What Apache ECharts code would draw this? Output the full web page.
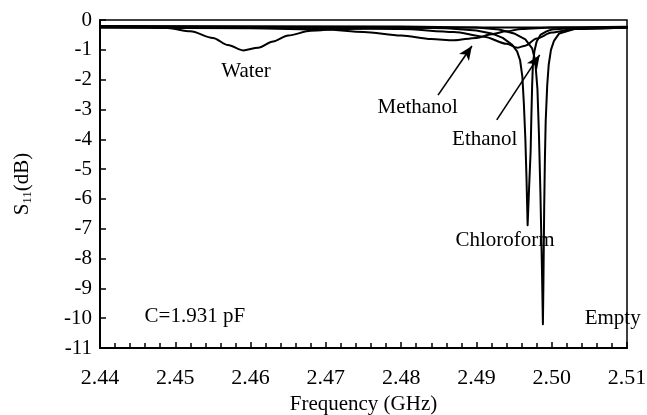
<!DOCTYPE html>
<html><head><meta charset="utf-8">
<script src="https://cdn.jsdelivr.net/npm/echarts@6/dist/echarts.min.js"></script>
<style>html,body{margin:0;padding:0;background:#fff}#c{width:647px;height:415px}</style>
</head><body><div id="c"></div>
<script>
// Tick labels
const xTicks = [2.44, 2.45, 2.46, 2.47, 2.48, 2.49, 2.50, 2.51];
const yTicks = [0, -1, -2, -3, -4, -5, -6, -7, -8, -9, -10, -11];

// Curves [frequency GHz, S11 dB]
const water = [[2.44,-0.2],[2.445,-0.22],[2.449,-0.27],[2.452,-0.38],[2.455,-0.6],[2.457,-0.84],[2.459,-1.02],[2.461,-0.93],[2.463,-0.72],[2.465,-0.52],[2.468,-0.36],[2.472,-0.3],[2.48,-0.27],[2.49,-0.25],[2.51,-0.25]];
const methanol = [[2.44,-0.25],[2.46,-0.28],[2.47,-0.32],[2.475,-0.4],[2.48,-0.52],[2.484,-0.64],[2.487,-0.68],[2.49,-0.6],[2.492,-0.48],[2.494,-0.38],[2.496,-0.3],[2.5,-0.25],[2.51,-0.23]];
const ethanol = [[2.44,-0.25],[2.47,-0.27],[2.48,-0.3],[2.487,-0.4],[2.491,-0.56],[2.494,-0.8],[2.4955,-0.93],[2.4965,-0.86],[2.498,-0.62],[2.5,-0.42],[2.503,-0.3],[2.51,-0.25]];
const chloroform = [[2.44,-0.22],[2.48,-0.25],[2.486,-0.28],[2.49,-0.35],[2.492,-0.45],[2.4935,-0.6],[2.4947,-0.82],[2.4954,-1.05],[2.4958,-1.35],[2.4961,-1.9],[2.4963,-2.8],[2.4965,-4.0],[2.49665,-5.3],[2.4968,-6.88],[2.4970,-5.6],[2.4972,-4.4],[2.4973,-3.2],[2.4974,-2.2],[2.4975,-1.5],[2.4977,-1.05],[2.498,-0.72],[2.4985,-0.5],[2.4993,-0.38],[2.5,-0.32],[2.503,-0.27],[2.51,-0.25]];
const empty = [[2.44,-0.2],[2.48,-0.22],[2.49,-0.25],[2.493,-0.32],[2.495,-0.45],[2.4965,-0.65],[2.4974,-0.95],[2.4978,-1.35],[2.4981,-2.3],[2.4983,-3.8],[2.4985,-5.8],[2.4987,-8.3],[2.49883,-10.2],[2.4989,-8.8],[2.499,-6.3],[2.4991,-4.6],[2.4992,-3.4],[2.4994,-2.2],[2.4996,-1.5],[2.4999,-1.0],[2.5003,-0.7],[2.501,-0.45],[2.503,-0.3],[2.51,-0.25]];

// Annotations
const noteText = ['Water', 'Methanol', 'Ethanol', 'Chloroform', 'Empty', 'C=1.931 pF'];
const noteX = [2.4594, 2.4822, 2.4911, 2.4938, 2.5081, 2.4526];
const noteY = [-1.74, -2.92, -4.02, -7.4, -10.0, -9.94];
const arrowFrom = [[2.4849, -2.52], [2.4927, -3.35]];
const arrowTo = [[2.4894, -0.87], [2.4984, -1.17]];

const FONT = '"Liberation Serif", "Times New Roman", serif';
const FS = 21;
const chart = echarts.init(document.getElementById('c'), null, {renderer: 'canvas'});

function curve(name, data, smooth) {
  return {
    name, type: 'line', data, showSymbol: false, symbol: 'none',
    smooth: smooth, smoothMonotone: 'x',
    lineStyle: {color: '#000', width: 2, join: 'round', cap: 'round'}, animation: false, z: 3
  };
}

const series = [
  curve('Water', water, 0.3),
  curve('Methanol', methanol, 0.3),
  curve('Ethanol', ethanol, 0.3),
  curve('Chloroform', chloroform, false),
  curve('Empty', empty, false),
  {
    name: 'arrows', type: 'line', data: [], showSymbol: false,
    animation: false, silent: true, z: 5,
    markLine: {
      silent: true, animation: false, symbol: ['none', 'arrow'], symbolSize: [9, 14],
      label: {show: false},
      lineStyle: {color: '#000', width: 1.6, type: 'solid'},
      data: arrowFrom.map((f, i) => [{coord: f}, {coord: arrowTo[i]}])
    }
  }
];

chart.setOption({
  backgroundColor: '#fff',
  animation: false,
  grid: {left: 100, right: 20, top: 20, bottom: 67, containLabel: false, outerBoundsMode: 'none',
         show: true, borderColor: '#000', borderWidth: 1.5, backgroundColor: 'transparent'},
  xAxis: {
    type: 'value', min: xTicks[0], max: xTicks[xTicks.length - 1], interval: 0.01,
    name: 'Frequency (GHz)', nameLocation: 'middle', nameGap: 45,
    nameTextStyle: {fontFamily: FONT, fontSize: FS, color: '#000'},
    axisLine: {show: true, onZero: false, lineStyle: {color: '#000', width: 2}},
    axisTick: {show: true, inside: true, length: 6, lineStyle: {color: '#000', width: 1.5}},
    minorTick: {show: true, splitNumber: 5, length: 5, lineStyle: {color: '#000', width: 1.5}},
    axisLabel: {fontFamily: FONT, fontSize: 22, color: '#000', margin: 19, formatter: v => v.toFixed(2)},
    splitLine: {show: false}
  },
  yAxis: {
    type: 'value', min: yTicks[yTicks.length - 1], max: yTicks[0], interval: 1,
    name: '{a|S}{b|11}{a|(dB)}', nameLocation: 'middle', nameGap: 66, nameRotate: 90,
    nameTextStyle: {rich: {a: {fontFamily: FONT, fontSize: FS, color: '#000'}, b: {fontFamily: FONT, fontSize: 13, color: '#000', verticalAlign: 'bottom', padding: [10, 0, 0, 0]}}},
    axisLine: {show: true, onZero: false, lineStyle: {color: '#000', width: 2}},
    axisTick: {show: true, inside: true, length: 6, lineStyle: {color: '#000', width: 1.5}},
    axisLabel: {fontFamily: FONT, fontSize: FS, color: '#000', margin: 8},
    splitLine: {show: false}
  },
  series
});

// Text annotations placed through the axes' own scales
chart.setOption({
  graphic: noteText.map((t, i) => {
    const p = chart.convertToPixel({gridIndex: 0}, [noteX[i], noteY[i]]);
    return {type: 'text', x: p[0], y: p[1], z: 10, silent: true,
            style: {text: t, fill: '#000', font: FS + 'px ' + FONT, textAlign: 'center', textVerticalAlign: 'middle'}};
  })
});
</script></body></html>
